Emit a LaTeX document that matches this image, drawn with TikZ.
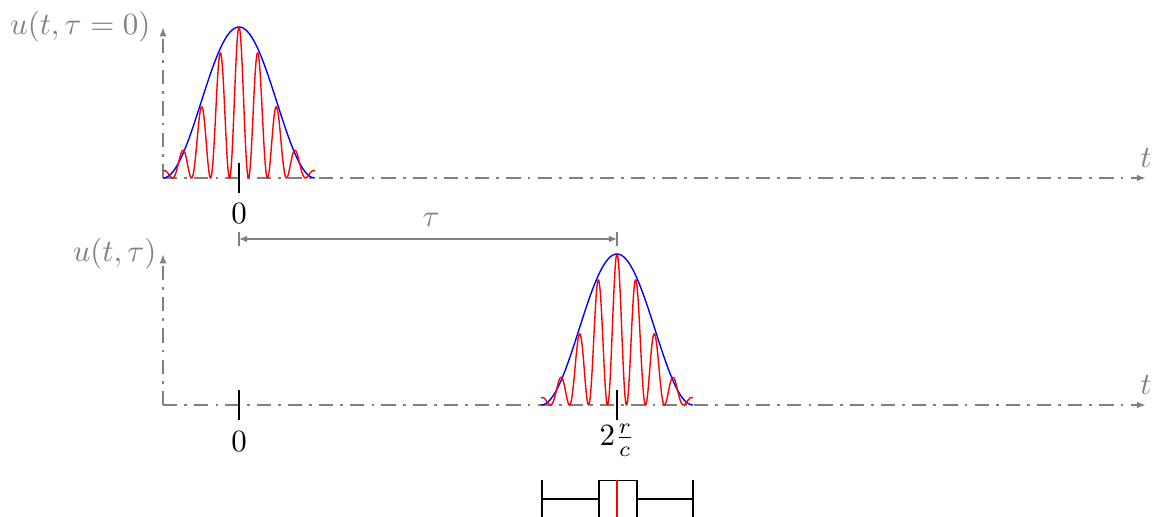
\documentclass[tikz,border=0pt]{standalone}
\usetikzlibrary{arrows.meta}
\begin{document}
\begin{tikzpicture}[x=0.3236pt,y=-0.3236pt,
  axis/.style={gray, line width=0.5pt, dash pattern=on 4.6pt off 2.3pt on 0.9pt off 2.3pt, -{Latex[length=3pt,width=2.2pt]}},
  glabel/.style={text=gray, inner sep=0pt},
  ticknode/.style={inner sep=0pt, minimum size=0pt},
  tickline/.style={black, line width=0.4pt},
  env/.style={blue, line width=0.45pt},
  carrier/.style={red, line width=0.45pt},
  dimline/.style={gray, line width=0.6pt},
  boxline/.style={black, line width=0.45pt}]
\useasboundingbox (0,0) rectangle (1155,517);
\clip (0,0) rectangle (1155,517);

% --- coordinates
\coordinate (o1) at (163,178);
\coordinate (x1) at (1146,178);
\coordinate (y1) at (163,27);
\coordinate (o2) at (163,405);
\coordinate (x2) at (1146,405);
\coordinate (y2) at (163,254);

% --- axes
\draw[axis] (o1) -- (x1) node[text=gray, above, inner sep=3.3pt] (tlab1) {$t$};
\draw[axis] (o1) -- (y1);
\draw[axis] (o2) -- (x2) node[text=gray, above, inner sep=3.3pt] (tlab2) {$t$};
\draw[axis] (o2) -- (y2);
\node[glabel, anchor=east] (ylab1) at (151,27) {$u(t,\tau=0)$};
\node[glabel, anchor=east] (ylab2) at (157,254) {$u(t,\tau)$};

% --- pulses
\draw[env] plot[domain=-76:76, samples=200] ({239+\x},{178-151*pow(cos(180*\x/152),2)});
\draw[carrier] plot[domain=-76:76, samples=400] ({239+\x},{178-151*exp(-((\x/43.4)*(\x/43.4)))*pow(cos(180*\x/19),2)});
\draw[env] plot[domain=-76:76, samples=200] ({617+\x},{405-151*pow(cos(180*\x/152),2)});
\draw[carrier] plot[domain=-76:76, samples=400] ({617+\x},{405-151*exp(-((\x/43.4)*(\x/43.4)))*pow(cos(180*\x/19),2)});

% --- ticks
\node[ticknode] (k1) at (239,178) {};
\node[ticknode] (k2) at (239,405) {};
\node[ticknode] (k3) at (617,405) {};
\draw[tickline] ([yshift=4.7pt]k1.center) -- ([yshift=-4.7pt]k1.center);
\draw[tickline] ([yshift=4.7pt]k2.center) -- ([yshift=-4.7pt]k2.center);
\draw[tickline] ([yshift=4.7pt]k3.center) -- ([yshift=-4.7pt]k3.center);
\node (z1) at (239,214) {$0$};
\node (z2) at (239,442) {$0$};
\node (rc) at (617,440) {$2\frac{r}{c}$};

% --- tau dimension
\coordinate (da) at (239,239);
\coordinate (db) at (617,239);
\draw[dimline] ([yshift=2.2pt]da) -- ([yshift=-2.2pt]da);
\draw[dimline] ([yshift=2.2pt]db) -- ([yshift=-2.2pt]db);
\draw[dimline, {Latex[length=2.6pt,width=2.2pt]}-{Latex[length=2.6pt,width=2.2pt]}] (da) -- (db);
\node[text=gray] (taul) at (431,220) {$\tau$};

% --- box plot
\coordinate (wl) at (542,499);
\coordinate (wr) at (693,499);
\coordinate (bl) at (599,499);
\coordinate (br) at (637,499);
\draw[boxline] ([yshift=6pt]wl) -- ([yshift=-9pt]wl);
\draw[boxline] ([yshift=6pt]wr) -- ([yshift=-9pt]wr);
\draw[boxline] (wl) -- (bl);
\draw[boxline] (br) -- (wr);
\draw[boxline] ([yshift=6pt]bl) rectangle ([yshift=-9pt]br);
\draw[red, line width=0.45pt] (617,480) -- (617,530);
\end{tikzpicture}
\end{document}
